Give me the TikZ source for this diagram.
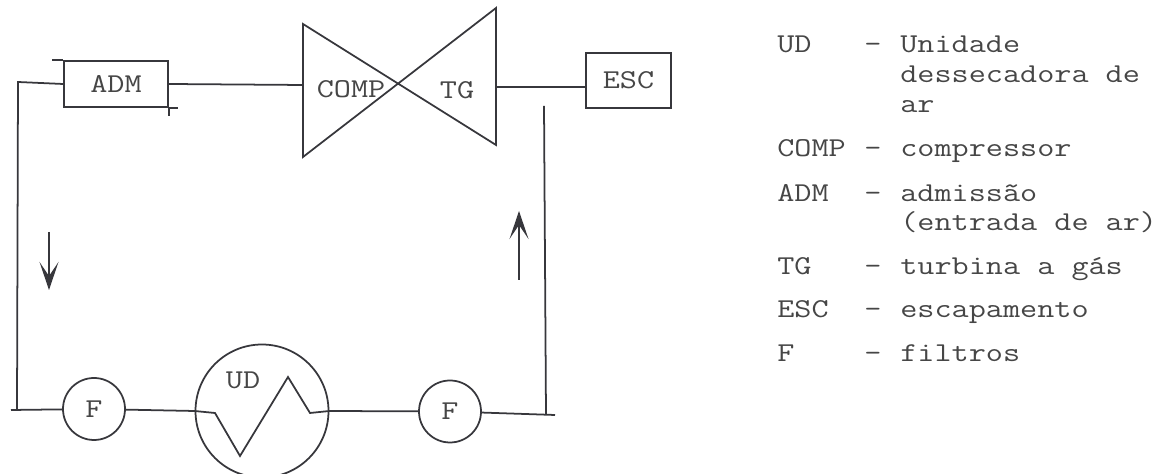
\documentclass[tikz,border=0pt]{standalone}
\usepackage{fontspec}
\setmonofont[FakeStretch=1.22]{Latin Modern Mono}
\usetikzlibrary{arrows.meta,positioning}
\definecolor{traco}{RGB}{55,55,60}
\definecolor{texto}{RGB}{70,70,70}
\tikzset{
  unitbox/.style={draw=traco,line width=1pt,text=texto,font=\ttty,minimum width=2.08cm,minimum height=0.92cm,inner sep=0pt},
  filtro/.style={draw=traco,circle,line width=1pt,text=texto,font=\ttty,minimum size=1.24cm,inner sep=0pt},
  rotulo/.style={text=texto,font=\ttty,inner sep=0pt},
  legenda/.style={text=texto,font=\ttty,inner sep=0pt,anchor=base west},
  linha/.style={draw=traco,line width=1pt},
  seta/.style={draw=traco,line width=1pt,-{Stealth[length=5.6mm,width=3.8mm,inset=2.8mm]}}
}
\newcommand{\ttty}{\fontsize{15.5}{18}\selectfont\ttfamily}
\begin{document}
\begin{tikzpicture}
  \useasboundingbox (0,0) rectangle (23.3,9.48);
  %% Compressor and turbine
  \coordinate (comptop) at (6.06,9.00);
  \coordinate (compbot) at (6.06,6.34);
  \coordinate (tgtop) at (9.92,9.32);
  \coordinate (tgbot) at (9.92,6.58);
  \coordinate (compin) at (6.06,7.78);
  \coordinate (tgout) at (9.92,7.74);
  \draw[linha] (comptop) -- (tgbot) -- (tgtop) -- (compbot) -- cycle;
  \node[rotulo] (complabel) at (7.02,7.70) {COMP};
  \node[rotulo] (tglabel) at (9.14,7.68) {TG};

  %% Admission and exhaust
  \node[unitbox] (adm) at (2.32,7.80) {ADM\hspace{0.16cm}};
  \node[unitbox,minimum width=1.70cm,minimum height=1.10cm] (esc) at (12.57,7.87) {ESC};
  \draw[linha] (adm.north west) -- ++(-0.22,0);
  \draw[linha] (adm.south east) -- ++(0.18,0);
  \draw[linha] (adm.south east) -- ++(0,-0.16);
  \draw[linha] (adm.east) -- (compin);
  \draw[linha] (tgout) -- (tgout -| esc.west);

  %% Filters and drier
  \node[filtro] (fesq) at (1.88,1.30) {F};
  \node[filtro] (fdir) at (9.00,1.25) {F};
  \node[draw=traco,circle,line width=1pt,minimum size=2.66cm,inner sep=0pt] (ud) at (5.24,1.26) {};
  \node[rotulo] (udlabel) at (4.86,1.88) {UD};
  \coordinate (ziga) at (4.30,1.22);
  \coordinate (zigb) at (4.80,0.36);
  \coordinate (zigc) at (5.76,1.94);
  \coordinate (zigd) at (6.20,1.22);
  \draw[linha] (fesq) -- (ud.west) -- (ziga) -- (zigb) -- (zigc) -- (zigd) -- (ud.east) -- (fdir);

  %% Return lines
  \coordinate (esqtop) at (0.36,7.84);
  \coordinate (esqbot) at (0.34,1.28);
  \coordinate (esqfim) at (0.22,1.28);
  \coordinate (dirtop) at (10.88,7.36);
  \coordinate (dirbot) at (10.92,1.18);
  \coordinate (dirfim) at (11.10,1.18);
  \draw[linha] (adm.west) -- (esqtop) -- (esqbot);
  \draw[linha] (fesq) -- (esqfim);
  \draw[linha] (dirtop) -- (dirbot);
  \draw[linha] (fdir) -- (dirfim);

  %% Flow arrows
  \coordinate (descea) at (0.98,4.84);
  \coordinate (desceb) at (0.98,3.68);
  \coordinate (sobea) at (10.38,3.88);
  \coordinate (sobeb) at (10.38,5.26);
  \draw[seta] (descea) -- (desceb);
  \draw[seta] (sobea) -- (sobeb);

  %% Legend keys
  \node[legenda] (kud) at (15.54,8.42) {UD};
  \node[legenda] (kcomp) at (15.54,6.34) {COMP};
  \node[legenda] (kadm) at (15.54,5.44) {ADM};
  \node[legenda] (ktg) at (15.54,3.98) {TG};
  \node[legenda] (kesc) at (15.54,3.12) {ESC};
  \node[legenda] (kf) at (15.54,2.24) {F};

  %% Legend dashes
  \node[legenda] (dud) at (17.28,8.42) {–};
  \node[legenda] (dcomp) at (17.28,6.34) {–};
  \node[legenda] (dadm) at (17.28,5.44) {–};
  \node[legenda] (dtg) at (17.28,3.98) {–};
  \node[legenda] (desc) at (17.28,3.12) {–};
  \node[legenda] (df) at (17.28,2.24) {–};

  %% Legend texts
  \node[legenda] (tuda) at (18.0,8.42) {Unidade};
  \node[legenda] (tudb) at (18.0,7.82) {dessecadora de};
  \node[legenda] (tudc) at (18.0,7.22) {ar};
  \node[legenda] (tcomp) at (18.0,6.34) {compressor};
  \node[legenda] (tadma) at (18.0,5.44) {admissão};
  \node[legenda] (tadmb) at (18.0,4.86) {(entrada de ar)};
  \node[legenda] (ttg) at (18.0,3.98) {turbina a gás};
  \node[legenda] (tesc) at (18.0,3.12) {escapamento};
  \node[legenda] (tf) at (18.0,2.24) {filtros};
\end{tikzpicture}
\end{document}
